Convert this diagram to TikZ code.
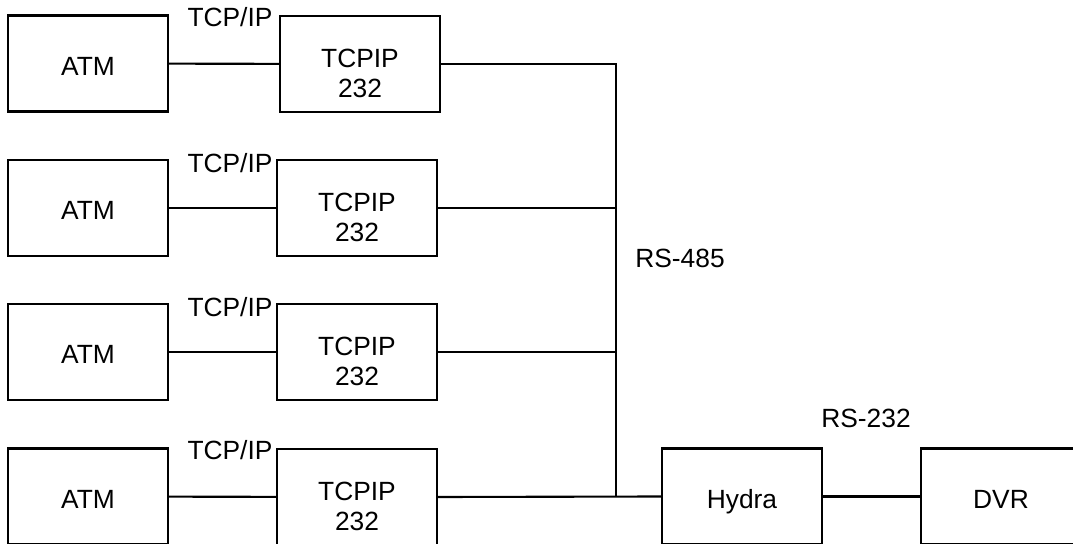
\documentclass[tikz,border=0pt]{standalone}
\usepackage{fontspec}
\setmainfont{Liberation Sans}
\usetikzlibrary{positioning}
\tikzset{
    box/.style={
        rectangle, draw, line width=1.2pt,
        minimum width=3.2cm, minimum height=1.92cm,
        align=center, inner sep=0pt,
        text height=13.5pt, text depth=0pt,
        font=\fontsize{15}{17}\selectfont
    },
    gwbox/.style={
        box, text height=38pt
    },
    lbl/.style={
        inner sep=0pt, font=\fontsize{15}{17}\selectfont
    },
    wire/.style={
        line width=1.2pt
    }
}

\begin{document}
\begin{tikzpicture}[x=0.02cm, y=-0.02cm]

        \useasboundingbox (0,0) rectangle (1073,544);
        \clip (0,0) rectangle (1073,544);

        % Cajeros y convertidores
        \node[box] (atmA) at (88,63.5) {ATM};
        \node[gwbox] (gwA) at (360,64) {TCPIP\\232};
        \node[box] (atmB) at (88,208) {ATM};
        \node[gwbox] (gwB) at (357,208) {TCPIP\\232};
        \node[box] (atmC) at (88,352) {ATM};
        \node[gwbox] (gwC) at (357,352) {TCPIP\\232};
        \node[box] (atmD) at (88,496.5) {ATM};
        \node[gwbox] (gwD) at (357,497) {TCPIP\\232};

        % Etiquetas TCP/IP
        \node[lbl] (tA) at (230,17.5) {TCP/IP};
        \node[lbl] (tB) at (230,163) {TCP/IP};
        \node[lbl] (tC) at (230,307) {TCP/IP};
        \node[lbl] (tD) at (230,450) {TCP/IP};

        % Hydra y DVR
        \node[box] (hydra) at (742,496.5) {Hydra};
        \node[box] (dvr) at (1001,496.5) {DVR};
        \coordinate (busTop) at (616,64);
        \coordinate (busBot) at (616,497);

        \node[lbl] (rs485) at (680,258) {RS-485};
        \node[lbl] (rs232) at (866,418) {RS-232};

        % Conexiones
        \draw[wire] (atmA) -- (gwA);
        \draw[wire] (atmB) -- (gwB);
        \draw[wire] (atmC) -- (gwC);
        \draw[wire] (atmD) -- (gwD);

        \draw[wire] (gwA.east) -- (busTop) -- (busBot);
        \draw[wire] (gwB.east) -- (gwB.east -| busTop);
        \draw[wire] (gwC.east) -- (gwC.east -| busTop);
        \draw[wire] (gwD.east) -- (hydra.west);
        \draw[wire] (hydra) -- (dvr);

    \end{tikzpicture}
\end{document}
